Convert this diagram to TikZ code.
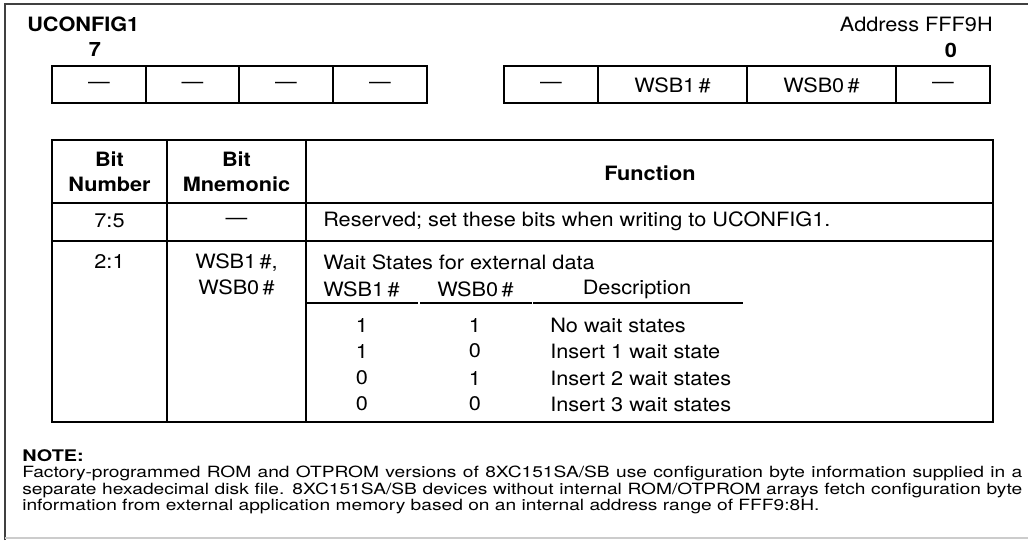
\documentclass[tikz,border=0pt]{standalone}
\usepackage{fontspec}
\setmainfont{TeX Gyre Heros}[FakeStretch=1.1]
\newfontfamily\notefont{TeX Gyre Heros}[FakeStretch=1.24]
\begin{document}
\begin{tikzpicture}[x=0.75pt,y=-0.75pt,
  txt/.style={anchor=center,inner sep=0pt,font=\fontsize{14.8}{19.5}\selectfont},
  hdr/.style={txt,font=\fontsize{14.8}{19}\selectfont\bfseries,align=center},
  rule/.style={line width=0.9pt}]
\useasboundingbox (0,0) rectangle (1028,540);
\draw[black!75,line width=1.4pt] (5,540) -- (5,4) -- (1028,4);
\draw[black!20,line width=1pt] (5,538) -- (1028,538);

% register
\node[hdr,anchor=west] (reg) at (27,24) {UCONFIG1};
\node[hdr] (msb) at (95,50) {7};
\node[txt,anchor=east] (addr) at (993,24) {Address FFF9H};
\node[hdr] (lsb) at (951,50) {0};

\draw[rule] (52,66) rectangle (427,103);
\draw[rule] (146,66) -- (146,103);
\draw[rule] (239,66) -- (239,103);
\draw[rule] (333,66) -- (333,103);
\node[txt] (b7) at (99,85) {—};
\node[txt] (b6) at (192.5,85) {—};
\node[txt] (b5) at (286,85) {—};
\node[txt] (b4) at (380,85) {—};

\draw[rule] (504,66) rectangle (990,103);
\draw[rule] (598,66) -- (598,103);
\draw[rule] (747,66) -- (747,103);
\draw[rule] (896,66) -- (896,103);
\node[txt] (b3) at (551,85) {—};
\node[txt] (b2) at (672.5,85) {WSB1\,\#};
\node[txt] (b1) at (821.5,85) {WSB0\,\#};
\node[txt] (b0) at (943,85) {—};

% table
\draw[rule] (52,140) rectangle (993,422);
\draw[rule] (167,140) -- (167,422);
\draw[rule] (306,140) -- (306,422);
\draw[rule] (52,203) -- (993,203);
\draw[rule] (52,241) -- (993,241);

\node[hdr] (hnum) at (109.5,172) {Bit\\Number};
\node[hdr] (hmne) at (236.5,172) {Bit\\Mnemonic};
\node[hdr] (hfun) at (650,173) {Function};

\node[txt] (n75) at (109.5,221) {7:5};
\node[txt] (m75) at (236.5,221) {—};
\node[txt,anchor=west] (f75) at (323,221) {Reserved; set these bits when writing to UCONFIG1.};

\node[txt] (n21) at (109.5,261) {2:1};
\node[txt,align=center] (m21) at (236.5,274) {WSB1\,\#,\\WSB0\,\#};
\node[txt,anchor=west] (f21) at (323,262) {Wait States for external data};

\node[txt,anchor=west] (s1) at (323,289) {WSB1\,\#};
\node[txt,anchor=west] (s0) at (437,289) {WSB0\,\#};
\node[txt] (sd) at (637,289) {Description};
\draw[rule] (306,303) -- (418,303);
\draw[rule] (420,303) -- (532,303);
\draw[rule] (533,303) -- (743,303);

\node[txt] (r1a) at (362,325) {1};
\node[txt] (r1b) at (475,325) {1};
\node[txt,anchor=west] (r1c) at (550,325) {No wait states};
\node[txt] (r2a) at (362,351) {1};
\node[txt] (r2b) at (475,351) {0};
\node[txt,anchor=west] (r2c) at (550,351) {Insert 1 wait state};
\node[txt] (r3a) at (362,378) {0};
\node[txt] (r3b) at (475,378) {1};
\node[txt,anchor=west] (r3c) at (550,378) {Insert 2 wait states};
\node[txt] (r4a) at (362,404) {0};
\node[txt] (r4b) at (475,404) {0};
\node[txt,anchor=west] (r4c) at (550,404) {Insert 3 wait states};

% note
\node[hdr,anchor=west,font=\notefont\fontsize{12}{16}\selectfont\bfseries] (note) at (22,456) {NOTE:};
\node[anchor=north west,inner sep=0pt,text width=750pt,align=justify,
  font=\notefont\fontsize{11.6}{12.2}\selectfont] (notetxt) at (22,466)
  {Factory-programmed ROM and OTPROM versions of 8XC151SA/SB use configuration byte information supplied in a separate hexadecimal disk file. 8XC151SA/SB devices without internal ROM/OTPROM arrays fetch configuration byte information from external application memory based on an internal address range of FFF9:8H.};
\end{tikzpicture}
\end{document}
